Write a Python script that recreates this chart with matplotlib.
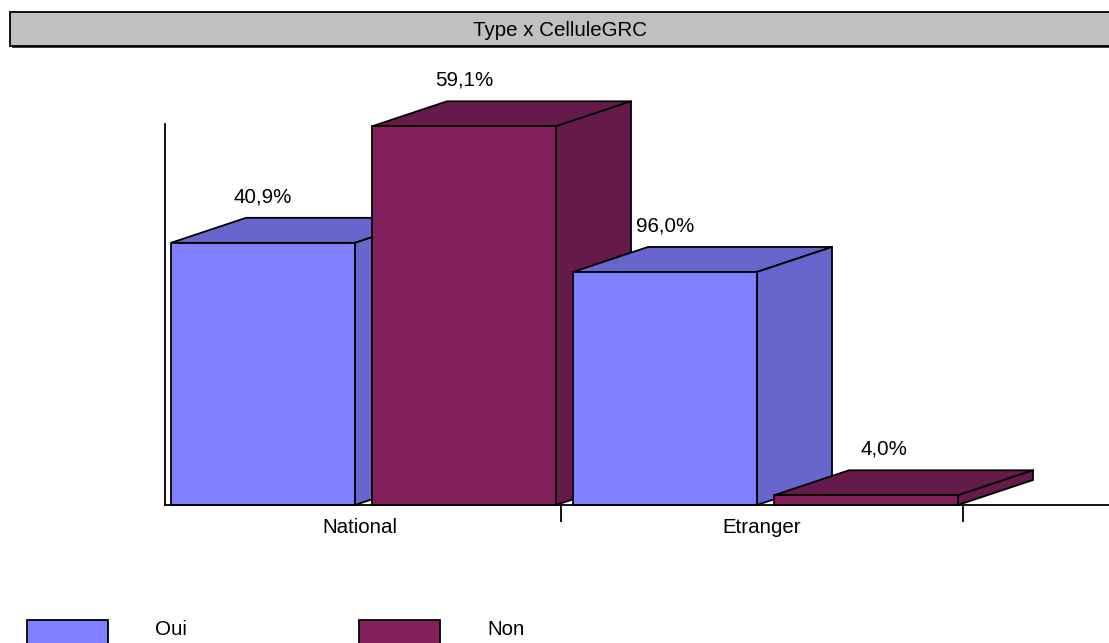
import matplotlib
matplotlib.use("Agg")
import matplotlib.pyplot as plt
from matplotlib.patches import Polygon, Rectangle

plt.rcParams["font.family"] = ["Liberation Sans", "DejaVu Sans"]

# Counts per type (National / Etranger) split by CelluleGRC answer
categories = ["National", "Etranger"]
series_names = ["Oui", "Non"]
oui_counts = [27, 24]
non_counts = [39, 1]

FRONT = {"Oui": "#8080FF", "Non": "#801F5A"}
SHADE = {"Oui": "#6666CC", "Non": "#661A4A"}
FS = 14.8

W, H, DPI = 1109, 643, 100
fig = plt.figure(figsize=(W / DPI, H / DPI), dpi=DPI)

# plot area in pixels
left_px, right_px, base_px, top_px = 159, 1109, 505, 124
cat_px = 402.0          # width of one category slot
unit_px = 9.71          # pixels per count
wall_px = 6             # the vertical wall sits slightly inside the origin
ax = fig.add_axes([left_px / W, (H - base_px) / H,
                   (right_px - left_px) / W, (base_px - top_px) / H])
xmax = (right_px - left_px) / cat_px
ax.set_xlim(0, xmax)
ax.set_ylim(0, (base_px - top_px) / unit_px)

# depth of the pseudo-3D bars, converted to data units
depth_dx = 75 / cat_px
depth_dy = 25 / unit_px

bar_w = 184 / cat_px
bar_off = [12 / cat_px, (12 + 184 + 17) / cat_px]
label_shift_px = [[0, 0], [0, 18]]   # per category, per series


def bar3d(x0, h, name):
    x1 = x0 + bar_w
    kw = dict(edgecolor="black", linewidth=1.3, joinstyle="miter",
              clip_on=False)
    top = [(x0, h), (x1, h), (x1 + depth_dx, h + depth_dy),
           (x0 + depth_dx, h + depth_dy)]
    side = [(x1, 0), (x1 + depth_dx, depth_dy),
            (x1 + depth_dx, h + depth_dy), (x1, h)]
    front = [(x0, 0), (x1, 0), (x1, h), (x0, h)]
    ax.add_patch(Polygon(top, closed=True, facecolor=SHADE[name], **kw))
    ax.add_patch(Polygon(side, closed=True, facecolor=SHADE[name], **kw))
    ax.add_patch(Polygon(front, closed=True, facecolor=FRONT[name], **kw))


values = [oui_counts, non_counts]
for ci, cat in enumerate(categories):
    total = sum(v[ci] for v in values)
    for si, name in enumerate(series_names):
        h = values[si][ci]
        x0 = ci + bar_off[si]
        bar3d(x0, h, name)
        pct = f"{100 * h / total:.1f}%".replace(".", ",")
        ax.annotate(pct, xy=(x0 + bar_w / 2, h),
                    xytext=(label_shift_px[ci][si], 46),
                    textcoords="offset pixels", ha="center", va="center",
                    fontsize=FS, color="black", annotation_clip=False)

# axes styling
for s in ("top", "right"):
    ax.spines[s].set_visible(False)
ax.spines["left"].set_linewidth(1.3)
ax.spines["left"].set_position(("data", wall_px / cat_px))
ax.spines["bottom"].set_linewidth(1.3)
ax.spines["bottom"].set_bounds(wall_px / cat_px, xmax)
ax.set_yticks([])
ax.set_xticks([1, 2])
ax.set_xticklabels([])
ax.tick_params(axis="x", length=12, width=1.3, direction="out")
ax.patch.set_alpha(0)
for ci, cat in enumerate(categories):
    ax.annotate(cat, xy=(ci + 0.5, 0), xycoords=("data", "axes fraction"),
                xytext=(0, -28), textcoords="offset pixels",
                ha="center", va="baseline", fontsize=FS)

# title banner
fig.patches.append(Rectangle((12 / W, 1 - 48 / H), 1.2, 34 / H,
                             transform=fig.transFigure, facecolor="#404040",
                             edgecolor="none", zorder=0))
fig.patches.append(Rectangle((10 / W, 1 - 46 / H), 1.2, 34 / H,
                             transform=fig.transFigure, facecolor="#C0C0C0",
                             edgecolor="black", linewidth=1.3, zorder=1))
fig.text(560 / W, 1 - 30 / H, "Type x CelluleGRC", ha="center", va="center",
         fontsize=FS)

# legend
legend_x = [27, 359]
text_x = [155, 487]
for si, name in enumerate(series_names):
    fig.patches.append(Rectangle((legend_x[si] / W, -10 / H), 81 / W,
                                 (H - 620 + 10) / H,
                                 transform=fig.transFigure,
                                 facecolor=FRONT[name], edgecolor="black",
                                 linewidth=1.3))
    fig.text(text_x[si] / W, 1 - 635 / H, name, ha="left", va="baseline",
             fontsize=FS)

fig.savefig("out.png", dpi=DPI)
